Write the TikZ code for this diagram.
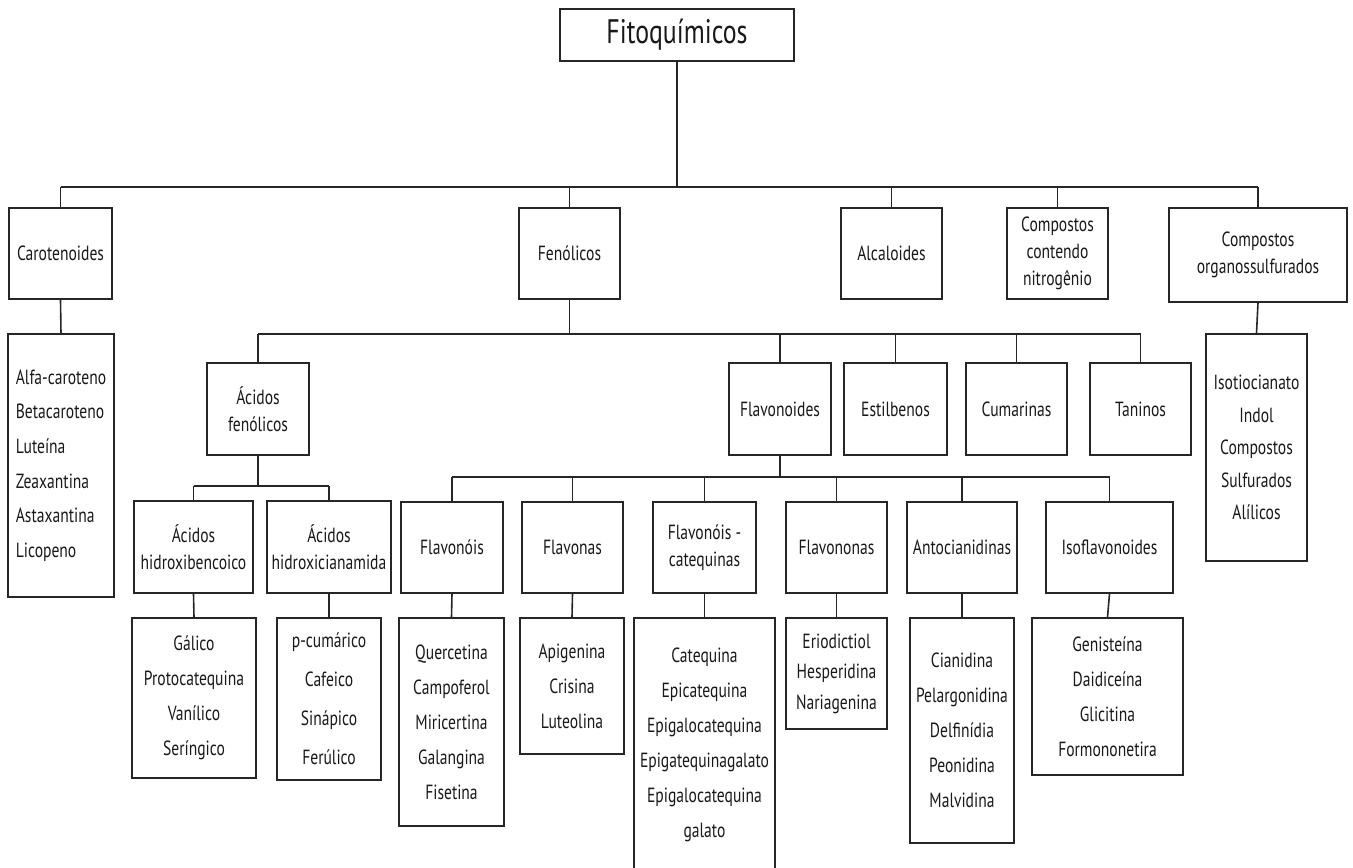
\documentclass[tikz,border=0pt]{standalone}
\usepackage{fontspec}
\setmainfont[FakeStretch=0.76]{PT Sans}
\begin{document}
\begin{tikzpicture}[x=1pt,y=-1pt,
  box/.style={draw=black!85, line width=1.6pt, inner sep=0pt, align=center,
    text=black!90, font=\fontsize{20.5}{27}\selectfont},
  wh/.style 2 args={minimum width=#1pt, minimum height=#2pt},
  listbox/.style={box, font=\fontsize{20.5}{#1}\selectfont},
  listbox/.default=35,
  conn/.style={draw=black!85, line width=1.6pt},
]
\clip (0,0) rectangle (1353,868);
\fill[white] (0,0) rectangle (1353,868);

% level 0
\node[box, wh={234}{52}, font=\fontsize{34}{36}\selectfont] (fito) at (677,35) {Fitoquímicos};

% level 1
\node[box, wh={103}{91}] (carot) at (60.5,253.5) {Carotenoides};
\node[box, wh={101}{91}] (fen) at (569.5,253.5) {Fenólicos};
\node[box, wh={101}{91}] (alc) at (891.5,253.5) {Alcaloides};
\node[box, wh={101}{91}] (nitro) at (1057.5,253.5) {Compostos\\contendo\\nitrogênio};
\node[box, wh={178}{94}] (organo) at (1258,255) {Compostos\\organossulfurados};

% lists under level 1
\node[listbox=34.6, wh={106}{263}, align=left] (carotlist) at (61,465.5)
  {Alfa-caroteno\\Betacaroteno\\Luteína\\Zeaxantina\\Astaxantina\\Licopeno};
\node[listbox=32.5, wh={101}{227}] (organolist) at (1256.5,447.5)
  {Isotiocianato\\Indol\\Compostos\\Sulfurados\\Alílicos};

% level 2 (fenolicos)
\node[box, wh={102}{92}] (acfen) at (258,409) {Ácidos\\fenólicos};
\node[box, wh={102}{92}] (flavd) at (780,409) {Flavonoides};
\node[box, wh={103}{92}] (estil) at (895.5,409) {Estilbenos};
\node[box, wh={101}{92}] (cumar) at (1016.5,409) {Cumarinas};
\node[box, wh={101}{92}] (tanin) at (1140.5,409) {Taninos};

% level 3
\node[box, wh={119}{92}] (achb) at (193.5,547) {Ácidos\\hidroxibencoico};
\node[box, wh={124}{92}] (achc) at (329,547) {Ácidos\\hidroxicianamida};
\node[box, wh={102}{91}] (flvois) at (452,547.5) {Flavonóis};
\node[box, wh={101}{91}] (flvas) at (572.5,547.5) {Flavonas};
\node[box, wh={103}{91}] (flcat) at (704.5,547.5) {Flavonóis -\\catequinas};
\node[box, wh={101}{91}] (flvnas) at (836.5,547.5) {Flavononas};
\node[box, wh={110}{91}] (antoc) at (962,547.5) {Antocianidinas};
\node[box, wh={127}{91}] (isofl) at (1109.5,547.5) {Isoflavonoides};

% level 4 lists
\node[listbox, wh={124}{160}] (hblist) at (194,698) {Gálico\\Protocatequina\\Vanílico\\Seríngico};
\node[listbox=39, wh={104}{162}] (hclist) at (329,699) {p-cumárico\\Cafeico\\Sinápico\\Ferúlico};
\node[listbox, wh={105}{208}] (fllist) at (451.5,722) {Quercetina\\Campoferol\\Miricertina\\Galangina\\Fisetina};
\node[listbox, wh={104}{136}] (fnlist) at (572,686) {Apigenina\\Crisina\\Luteolina};
\node[listbox, wh={141}{254}] (catlist) at (704.5,745)
  {Catequina\\Epicatequina\\Epigalocatequina\\Epigatequinagalato\\Epigalocatequina\\galato};
\node[listbox=30.5, wh={101}{111}] (fvnlist) at (836.5,673.5) {Eriodictiol\\Hesperidina\\Nariagenina};
\node[listbox, wh={104}{225}] (antlist) at (962,730.5) {Cianidina\\Pelargonidina\\Delfinídia\\Peonidina\\Malvidina};
\node[listbox, wh={151}{157}] (isolist) at (1107.5,696.5) {Genisteína\\Daidiceína\\Glicitina\\Formononetira};

% bus coordinates
\coordinate (topbus) at (0,187);
\coordinate (fenbus) at (0,334);
\coordinate (acbus) at (0,486);
\coordinate (flbus) at (0,477);

% top bus
\draw[conn] (fito.south) -- (fito.south |- topbus);
\draw[conn] (carot.north |- topbus) -- (organo.north |- topbus);
\foreach \n in {carot,fen,alc,nitro,organo}
  \draw[conn] (\n.north |- topbus) -- (\n.north);

% lists under level 1
\draw[conn] (carot.south) -- (carotlist.north);
\draw[conn] (organo.south) -- (organolist.north);

% fenolicos bus
\draw[conn] (fen.south) -- (fen.south |- fenbus);
\draw[conn] (acfen.north |- fenbus) -- (tanin.north |- fenbus);
\foreach \n in {acfen,flavd,estil,cumar,tanin}
  \draw[conn] (\n.north |- fenbus) -- (\n.north);

% acidos fenolicos bus
\draw[conn] (acfen.south) -- (acfen.south |- acbus);
\draw[conn] (achb.north |- acbus) -- (achc.north |- acbus);
\foreach \n in {achb,achc}
  \draw[conn] (\n.north |- acbus) -- (\n.north);

% flavonoides bus
\draw[conn] (flavd.south) -- (flavd.south |- flbus);
\draw[conn] (flvois.north |- flbus) -- (isofl.north |- flbus);
\foreach \n in {flvois,flvas,flcat,flvnas,antoc,isofl}
  \draw[conn] (\n.north |- flbus) -- (\n.north);

% level 3 to lists
\draw[conn] (achb.south) -- (hblist.north);
\draw[conn] (achc.south) -- (hclist.north);
\draw[conn] (flvois.south) -- (fllist.north);
\draw[conn] (flvas.south) -- (fnlist.north);
\draw[conn] (flcat.south) -- (catlist.north);
\draw[conn] (flvnas.south) -- (fvnlist.north);
\draw[conn] (antoc.south) -- (antlist.north);
\draw[conn] (isofl.south) -- (isolist.north);
\end{tikzpicture}
\end{document}
